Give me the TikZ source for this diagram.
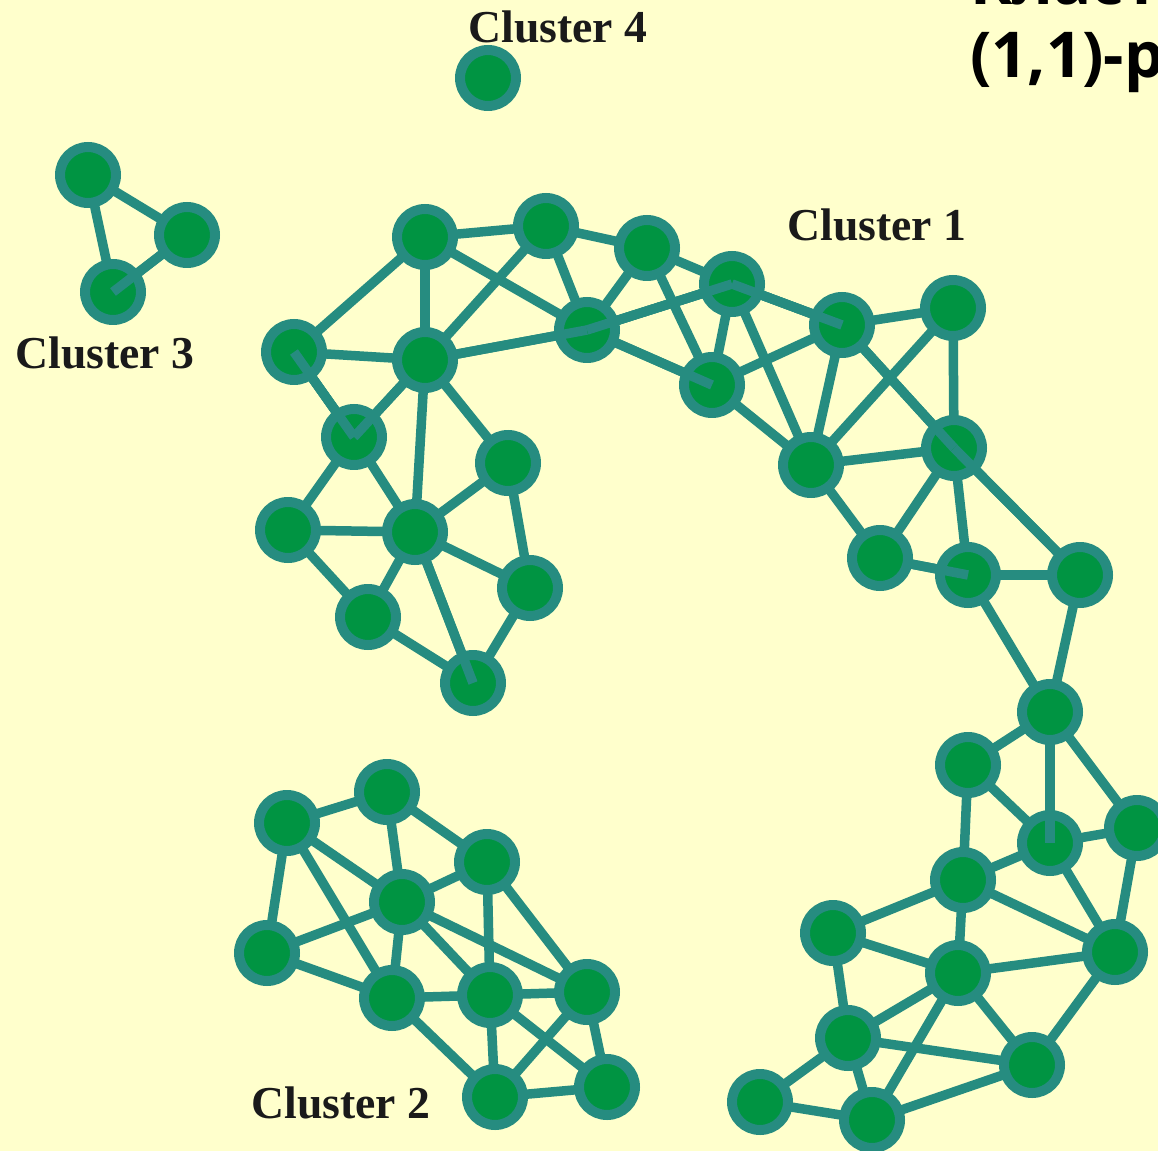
\documentclass[tikz,border=0pt]{standalone}
\usepackage{fontspec}
\setmainfont{Liberation Serif}
\newfontfamily\headfont{Open Sans}
\usetikzlibrary{backgrounds}
\definecolor{paper}{RGB}{255,255,204}
\definecolor{rim}{RGB}{38,140,128}
\definecolor{leaf}{RGB}{0,148,66}
\definecolor{ink}{RGB}{26,26,26}
\begin{document}
\begin{tikzpicture}[x=0.02cm,y=-0.02cm,
  disc/.style={circle,draw=rim,line width=0.2cm,fill=leaf,minimum size=1.12cm,inner sep=0pt,outer sep=0pt},
  link/.style={draw=rim,line width=0.19cm},
  tag/.style={text=ink,font=\fontsize{26}{30}\selectfont\bfseries,anchor=base,inner sep=0pt}]
\useasboundingbox (0,0) rectangle (1158,1151);
% cluster 1
\foreach \nm/\x/\y in {a1/425/237,a2/546/226,a3/294/352,a4/425/360,a5/354/437,a6/508/463,
  a7/587/330,a8/288/530,a9/415/532,a10/368/617,a11/530/588,a12/473/683,
  a13/647/248,a14/732/284,a15/712/385,a16/842/325,a17/953/308,a18/811/465,
  a19/954/448,a20/880/558,a21/968/575,a22/1080/575,a23/1050/712,a24/968/765,
  a25/1050/843,a26/1137/828,a27/963/880,a28/1115/952,a29/833/933,a30/958/973,
  a31/848/1038,a32/1032/1065,a33/760/1102,a34/872/1120}
  \node[disc] (\nm) at (\x,\y) {};
% cluster 2
\foreach \nm/\x/\y in {b1/287/823,b2/387/792,b3/487/862,b4/402/902,b5/267/953,
  b6/392/998,b7/490/995,b8/587/992,b9/495/1097,b10/607/1087}
  \node[disc] (\nm) at (\x,\y) {};
% cluster 3 and 4
\foreach \nm/\x/\y in {c1/88/175,c2/187/235,c3/113/292,d1/488/78}
  \node[disc] (\nm) at (\x,\y) {};
\begin{pgfonlayer}{background}
\fill[paper] (0,0) rectangle (1158,1151);
\foreach \a/\b in {a1/a2,a1/a3,a1/a4,a1/a7,a2/a4,a2/a7,a2/a13,a3/a4,a3/a5,
  a4/a5,a4/a6,a4/a7,a4/a9,a5/a8,a5/a9,a6/a9,a6/a11,a8/a9,a8/a10,
  a9/a10,a9/a11,a9/a12,a10/a12,a11/a12,a13/a14,a13/a7,a13/a15,
  a7/a14,a7/a15,a14/a15,a14/a16,a14/a18,a15/a16,a15/a18,
  a16/a17,a16/a18,a16/a19,a17/a18,a17/a19,a18/a19,a18/a20,
  a19/a20,a19/a21,a19/a22,a20/a21,a21/a22,a21/a23,a22/a23,
  a23/a24,a23/a25,a23/a26,a24/a25,a24/a27,a25/a26,a25/a27,a25/a28,
  a26/a28,a27/a29,a27/a28,a27/a30,a29/a30,a29/a31,a28/a30,a28/a32,
  a30/a31,a30/a32,a30/a34,a31/a32,a31/a33,a31/a34,a33/a34,a34/a32}
  \draw[link] (\a) -- (\b);
\foreach \a/\b in {b1/b2,b1/b4,b1/b5,b1/b6,b2/b3,b2/b4,b3/b4,b3/b7,b3/b8,
  b4/b5,b4/b6,b4/b7,b4/b8,b5/b6,b6/b7,b6/b9,b7/b8,b7/b9,b7/b10,
  b8/b9,b8/b10,b9/b10,c1/c2,c1/c3,c2/c3}
  \draw[link] (\a) -- (\b);
\end{pgfonlayer}
% strokes over the discs
\foreach \a/\b in {a3/a5,a5/a3,a5/a4,a7/a4,a7/a14,a14/a7,a14/a16,a16/a14,
  a15/a7,a19/a16,a19/a22,a21/a20,a12/a9,a25/a23,c3/c2}
  \draw[link] (\a.center) -- (\b);
\node[tag] (lab1) at (877,241) {Cluster 1};
\node[tag] (lab2) at (341,1118) {Cluster 2};
\node[tag] (lab3) at (105,369) {Cluster 3};
\node[tag] (lab4) at (558,43) {Cluster 4};
\node[anchor=base west,inner sep=0pt,font=\headfont\bfseries\fontsize{36}{40}\selectfont] (head1) at (970,5) {Кластер};
\node[anchor=base west,inner sep=0pt,font=\headfont\bfseries\fontsize{36}{40}\selectfont] (head2) at (970,78) {(1,1)-р};
\end{tikzpicture}
\end{document}
